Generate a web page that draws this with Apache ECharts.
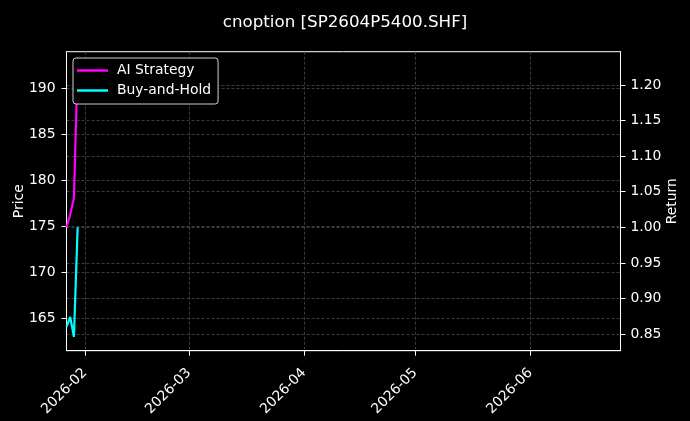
<!DOCTYPE html>
<html>
<head>
<meta charset="utf-8">
<style>
html,body{margin:0;padding:0;background:#000;}
#chart{width:690px;height:421px;}
</style>
<script src="https://cdn.jsdelivr.net/npm/echarts@6/dist/echarts.min.js"></script>
</head>
<body>
<div id="chart"></div>
<script>
var titleText = 'cnoption [SP2604P5400.SHF]';
var dates = ['2026-01-27', '2026-01-28', '2026-01-29', '2026-01-30'];
var aiStrategy = [1.000, 1.018, 1.041, 1.228];
var buyAndHold = [0.860, 0.874, 0.846, 1.000];
var xTickLabels = ['2026-02', '2026-03', '2026-04', '2026-05', '2026-06'];
var priceTicks = [165, 170, 175, 180, 185, 190];
var returnTicks = [0.85, 0.90, 0.95, 1.00, 1.05, 1.10, 1.15, 1.20];

var FONT = 'DejaVu Sans';
var FS = 13.9;
var gridColor = '#4a4a4a';
function ts(s) { return Date.parse(s.length === 7 ? s + '-01T00:00:00Z' : (s.indexOf('T') > 0 ? s + 'Z' : s + 'T00:00:00Z')); }
var xTickValues = xTickLabels.map(ts);

function pair(arr) { return dates.map(function (d, i) { return [ts(d), arr[i]]; }); }

var chart = echarts.init(document.getElementById('chart'));
chart.setOption({
  backgroundColor: '#000',
  animation: false,
  textStyle: { fontFamily: FONT },
  title: {
    text: titleText, left: 'center', top: 9,
    textStyle: { color: '#fff', fontSize: 16.7, fontWeight: 'normal', fontFamily: FONT }
  },
  grid: {
    left: 66.5, right: 69.5, top: 51.7, bottom: 70.3,
    containLabel: false, outerBoundsMode: 'none',
    show: true, borderColor: '#fff', borderWidth: 1, backgroundColor: '#000'
  },
  legend: {
    orient: 'vertical', left: 73, top: 58,
    backgroundColor: '#000', borderColor: '#cfcfcf', borderWidth: 1, borderRadius: 3,
    padding: [4, 7, 5, 4], itemGap: 3,
    icon: 'rect', itemWidth: 31, itemHeight: 2.5,
    textStyle: { color: '#fff', fontSize: FS, fontFamily: FONT, lineHeight: 17, padding: [0, 0, 0, 4] },
    data: ['AI Strategy', 'Buy-and-Hold']
  },
  xAxis: {
    type: 'value',
    min: ts('2026-01-27'), max: ts('2026-06-25T07:00:00'),
    axisLine: { show: true, onZero: false, lineStyle: { color: '#fff', width: 1 } },
    axisTick: { show: true, length: 5, lineStyle: { color: '#fff' }, customValues: xTickValues },
    axisLabel: {
      color: '#fff', fontSize: FS, fontFamily: FONT, rotate: 45, margin: 20,
      customValues: xTickValues,
      formatter: function (v) {
        var d = new Date(v);
        return d.getUTCFullYear() + '-' + String(d.getUTCMonth() + 1).padStart(2, '0');
      }
    },
    splitLine: { show: true, lineStyle: { color: gridColor, type: [3, 2], width: 0.8 } }
  },
  yAxis: [
    {
      type: 'value', position: 'left', min: 161.48, max: 194.0,
      name: 'Price', nameLocation: 'middle', nameGap: 40, nameMoveOverlap: false,
      nameTextStyle: { color: '#fff', fontSize: FS, fontFamily: FONT },
      axisLine: { show: true, lineStyle: { color: '#fff' } },
      axisTick: { show: true, length: 5, lineStyle: { color: '#fff' }, customValues: priceTicks },
      axisLabel: { color: '#fff', fontSize: FS, fontFamily: FONT, margin: 11, customValues: priceTicks },
      splitLine: { show: true, lineStyle: { color: gridColor, type: [3, 2], width: 0.8 } }
    },
    {
      type: 'value', position: 'right', min: 0.8266, max: 1.2468,
      name: 'Return', nameLocation: 'middle', nameGap: 45, nameMoveOverlap: false,
      nameTextStyle: { color: '#fff', fontSize: FS, fontFamily: FONT },
      axisLine: { show: true, lineStyle: { color: '#fff' } },
      axisTick: { show: true, length: 5, lineStyle: { color: '#fff' }, customValues: returnTicks },
      axisLabel: {
        color: '#fff', fontSize: FS, fontFamily: FONT, margin: 10, customValues: returnTicks,
        formatter: function (v) { return v.toFixed(2); }
      },
      splitLine: { show: true, lineStyle: { color: gridColor, type: [3, 2], width: 0.8 } }
    }
  ],
  series: [
    {
      name: 'AI Strategy', type: 'line', yAxisIndex: 1, data: pair(aiStrategy),
      symbol: 'none', smooth: false, clip: true,
      lineStyle: { color: '#ff00ff', width: 2.2 }, itemStyle: { color: '#ff00ff' }
    },
    {
      name: 'Buy-and-Hold', type: 'line', yAxisIndex: 1, data: pair(buyAndHold),
      symbol: 'none', smooth: false, clip: true,
      lineStyle: { color: '#00ffff', width: 2.2 }, itemStyle: { color: '#00ffff' }
    }
  ]
});
</script>
</body>
</html>
